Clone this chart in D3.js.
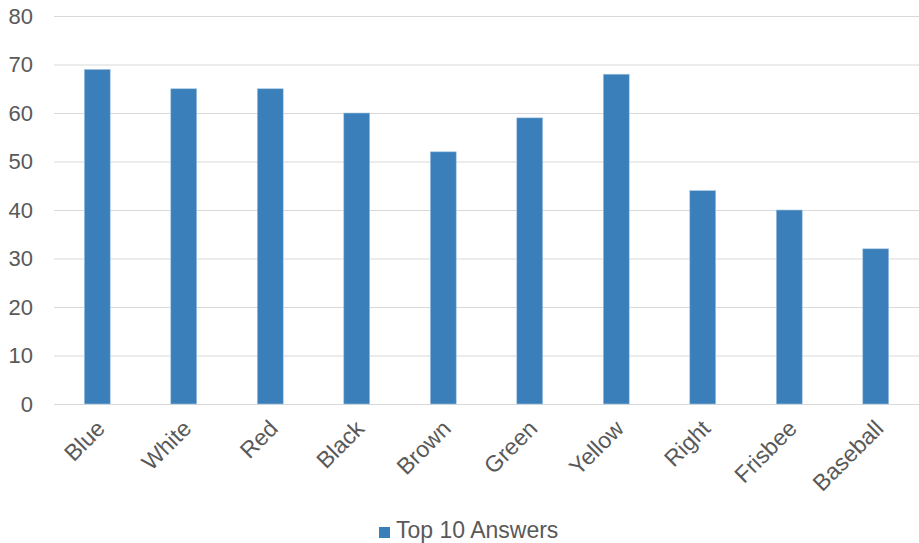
<!DOCTYPE html>
<html>
<head>
<meta charset="utf-8">
<script src="https://cdn.jsdelivr.net/npm/d3@7"></script>
<style>
  body { margin: 0; background: #fff; }
  svg text { font-family: "Liberation Sans", Arial, sans-serif; fill: #595959; }
</style>
</head>
<body>
<svg class="chart"></svg>
<script>
const categories = ["Blue", "White", "Red", "Black", "Brown", "Green", "Yellow", "Right", "Frisbee", "Baseball"];
const answers = [69, 65, 65, 60, 52, 59, 68, 44, 40, 32];
const yTicks = [0, 10, 20, 30, 40, 50, 60, 70, 80];
const seriesName = "Top 10 Answers";

const width = 919, height = 543;
const margin = { top: 16, right: 0, bottom: 139, left: 54 };

const svg = d3.select(".chart").attr("width", width).attr("height", height);

const x = d3.scaleBand()
  .domain(categories)
  .range([margin.left, width - margin.right])
  .paddingInner(0.7)
  .paddingOuter(0.35);

const y = d3.scaleLinear()
  .domain([0, 80])
  .range([height - margin.bottom, margin.top]);

// grid lines
svg.append("g")
  .selectAll("line")
  .data(yTicks)
  .join("line")
  .attr("x1", margin.left)
  .attr("x2", width - margin.right)
  .attr("y1", (d) => y(d) + 0.5)
  .attr("y2", (d) => y(d) + 0.5)
  .attr("stroke", "#d9d9d9")
  .attr("stroke-width", 1);

// y axis labels
const yAxis = svg.append("g")
  .attr("transform", `translate(${margin.left},0)`)
  .call(d3.axisLeft(y).tickValues(yTicks).tickSize(0).tickPadding(21));
yAxis.select(".domain").remove();
yAxis.selectAll("text").attr("font-size", "22px").attr("fill", "#595959");

// bars
svg.append("g")
  .selectAll("rect")
  .data(answers)
  .join("rect")
  .attr("x", (d, i) => x(categories[i]))
  .attr("y", (d) => y(d))
  .attr("width", x.bandwidth())
  .attr("height", (d) => y(0) - y(d))
  .attr("fill", "#3a7fba")
  .attr("stroke", "#a9c8e4")
  .attr("stroke-width", 0.6);

// x axis labels
const xAxis = svg.append("g")
  .attr("transform", `translate(0,${y(0)})`)
  .call(d3.axisBottom(x).tickSize(0).tickPadding(0));
xAxis.select(".domain").remove();
xAxis.selectAll("text")
  .attr("font-size", "23px")
  .attr("fill", "#595959")
  .attr("text-anchor", "end")
  .attr("dy", "0")
  .attr("transform", "translate(9,26) rotate(-45)");

// legend
const legend = svg.append("g").attr("transform", "translate(379,527)");
legend.append("rect")
  .attr("width", 11)
  .attr("height", 11)
  .attr("fill", "#3a7fba");
legend.append("text")
  .attr("x", 17)
  .attr("y", 11)
  .attr("font-size", "23px")
  .text(seriesName);
</script>
</body>
</html>
